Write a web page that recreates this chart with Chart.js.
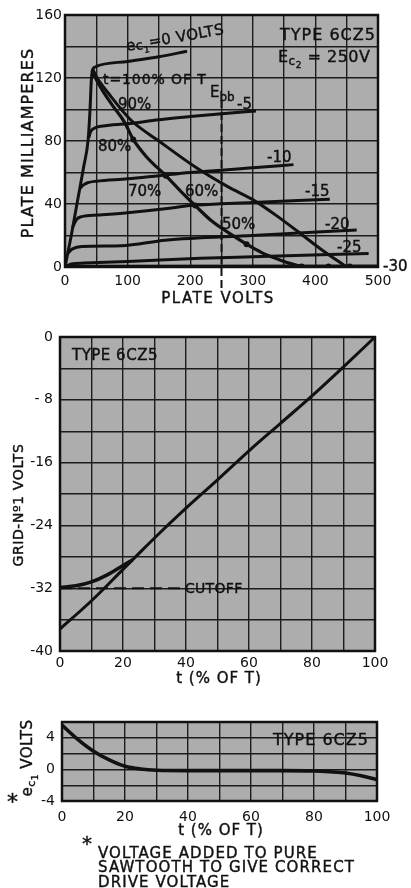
<!DOCTYPE html>
<html>
<head>
<meta charset="utf-8">
<script src="https://cdn.jsdelivr.net/npm/chart.js@4.4.0/dist/chart.umd.min.js"></script>
<style>
  html, body { margin: 0; padding: 0; background: #fff; }
  canvas { position: absolute; left: 0; }
</style>
</head>
<body>
<canvas id="plate" width="411" height="310" style="top:0px"></canvas>
<canvas id="grid1" width="411" height="390" style="top:310px"></canvas>
<canvas id="drive" width="411" height="188" style="top:700px"></canvas>
<script>
// ---- plate characteristics, 6CZ5 (plate volts, plate mA) ----
const plateVoltTicks = [0, 100, 200, 300, 400, 500];
const plateMaTicks = [0, 40, 80, 120, 160];

const ec0 = [[0,0],[10,20],[20,42],[30,64],[37,81],[40,100],[42,118],[44,125],[48,127],[100,130.5],[150,133.5],[195,137]];
const ec5 = [[38,82],[41,86],[46,88],[60,89.5],[100,91],[150,93.5],[200,95.5],[255,97.5],[305,99]];
const ec10 = [[24,50],[29,52],[36,53.5],[50,54.5],[100,56],[150,58],[200,60],[300,63],[365,65]];
const ec15 = [[12,25],[18,30],[27,32],[53,33],[100,34.5],[160,37],[200,39],[300,41],[423,43]];
const ec20 = [[5,9],[12,11.5],[27,13],[90,13.5],[160,17],[300,20],[466,23.5]];
const ec25 = [[0,0],[10,2],[30,2.5],[100,3.5],[216,5.5],[300,6.5],[485,8.6]];
const ec30 = [[0,0.5],[500,0.6]];

// operating path, 100% -> 20% of T
const pathT = [[43,125],[50,119],[60,112],[77,102],[95,92],[109,81],[130,70],[161,58],[185,48],[208,39],[235,29],[264,21],[290,14.5],[315,9],[343,4.5],[362,2],[381,0]];
const pathDots = [[109,81],[161,58],[208,39],[290,14.5],[378,0.3],[421,0.3],[455,0.3]];
// load line
const loadLine = [[44,126],[50,121],[70,110],[106,93],[150,80],[210,63],[260,51],[303,42],[340,32],[372,22.5],[410,11],[450,0]];
const ebb = [[250,106],[250,-15]];

// ---- grid No.1 drive voltage vs t (% of T) ----
const tTicks = [0, 20, 40, 60, 80, 100];
const gridVoltTicks = [0, -8, -16, -24, -32, -40];
const gridVoltLabels = ['0', '- 8', '-16', '-24', '-32', '-40'];
const driveT = [0, 10, 20, 25, 30, 40, 50, 60, 70, 80, 90, 100];
const driveV = [-37.2, -33.6, -29.6, -27.6, -25.6, -21.8, -18.2, -14.5, -11, -7.5, -3.8, 0];
const bendT = [0, 5, 10, 15, 20, 23];
const bendV = [-31.9, -31.7, -31.2, -30.3, -29.1, -28.4];
const cutoffT = [0, 39];
const cutoffV = [-32, -32];

// ---- correction voltage ec1 ----
const ecTicks = [4, 0, -4];
const corrT = [0, 5, 10, 15, 20, 25, 30, 40, 50, 60, 70, 80, 85, 90, 95, 100];
const corrV = [5.6, 3.8, 2.3, 1.2, 0.4, 0.05, -0.1, -0.15, -0.15, -0.15, -0.15, -0.2, -0.3, -0.45, -0.8, -1.3];

const FONT = '"DejaVu Sans", sans-serif';
const INK = '#111';
const pairs = a => a.map(([x, y]) => ({ x, y }));
const zip = (xs, ys) => xs.map((x, i) => ({ x, y: ys[i] }));

function put(ctx, x, y, parts, o = {}) {
  ctx.save();
  ctx.translate(x, y);
  if (o.rot) ctx.rotate(o.rot * Math.PI / 180);
  ctx.fillStyle = INK;
  ctx.strokeStyle = INK;
  ctx.lineWidth = 0.4;
  ctx.textBaseline = 'alphabetic';
  ctx.letterSpacing = (o.ls || 0) + 'px';
  let w = 0;
  parts.forEach(p => { ctx.font = p[1] + 'px ' + FONT; w += ctx.measureText(p[0]).width; });
  let cx = o.align === 'center' ? -w / 2 : 0;
  parts.forEach(p => {
    ctx.font = p[1] + 'px ' + FONT;
    ctx.fillText(p[0], cx, p[2] || 0);
    ctx.strokeText(p[0], cx, p[2] || 0);
    cx += ctx.measureText(p[0]).width;
  });
  ctx.restore();
}

function line(data, width, extra) {
  return Object.assign({
    data, showLine: true, borderColor: INK, borderWidth: width || 3,
    pointRadius: 0, cubicInterpolationMode: 'monotone', fill: false
  }, extra || {});
}

function scale(min, max, step, cb, fit, pad) {
  return {
    type: 'linear', min, max,
    ticks: { stepSize: step, autoSkip: false, maxRotation: 0, padding: pad, color: INK,
             font: { family: FONT, size: 14 }, callback: cb },
    grid: { color: '#1c1c1c', lineWidth: 1.4, drawTicks: false },
    border: { display: false },
    afterFit: fit
  };
}

const paper = {
  id: 'paper',
  beforeDraw(chart) {
    const a = chart.chartArea, ctx = chart.ctx;
    ctx.save();
    ctx.fillStyle = '#adadad';
    ctx.fillRect(a.left, a.top, a.right - a.left, a.bottom - a.top);
    ctx.restore();
  },
  afterDraw(chart) {
    const a = chart.chartArea, ctx = chart.ctx;
    ctx.save();
    ctx.strokeStyle = INK;
    ctx.lineWidth = 2.5;
    ctx.strokeRect(a.left, a.top, a.right - a.left, a.bottom - a.top);
    ctx.restore();
  }
};

function base(datasets, x, y, padding, notes) {
  return {
    type: 'scatter',
    data: { datasets },
    options: {
      responsive: false, animation: false, devicePixelRatio: 1,
      layout: { padding },
      plugins: { legend: { display: false }, tooltip: { enabled: false } },
      scales: { x, y }
    },
    plugins: [paper, { id: 'notes', afterDraw: chart => notes(chart.ctx) }]
  };
}

// ---------- chart 1 ----------
new Chart(document.getElementById('plate'), base(
  [
    line(pairs(ec0)), line(pairs(ec5)), line(pairs(ec10)), line(pairs(ec15)),
    line(pairs(ec20)), line(pairs(ec25)), line(pairs(ec30)),
    line(pairs(pathT), 3.2), line(pairs(loadLine), 3),
    line(pairs(ebb), 2, { borderDash: [8, 4], clip: false, cubicInterpolationMode: 'default' }),
    { data: pairs(pathDots), showLine: false, pointRadius: 3, pointBackgroundColor: INK, pointBorderWidth: 0 }
  ],
  scale(0, 500, 50, v => plateVoltTicks.includes(v) ? String(v) : '', s => { s.height = 43; }, 6),
  scale(0, 160, 20, v => plateMaTicks.includes(v) ? String(v) : '', s => { s.width = 65; }, 3),
  { left: 0, right: 33, top: 15, bottom: 0 },
  ctx => {
    put(ctx, 33, 143, [['PLATE MILLIAMPERES', 16]], { rot: -90, align: 'center', ls: 1.1 });
    put(ctx, 218, 303, [['PLATE VOLTS', 15]], { align: 'center', ls: 1.5 });
    put(ctx, 280, 40, [['TYPE 6CZ5', 16]], { ls: 1 });
    put(ctx, 278, 62, [['E', 16], ['c', 12, 3], ['2', 9, 6], [' = 250V', 16]], { ls: 0.5 });
    put(ctx, 127, 51, [['e', 15], ['c', 13, 1], ['1', 9, 5], ['=0 VOLTS', 15]], { rot: -10, ls: 0.3 });
    put(ctx, 103, 84, [['t=100% OF T', 14]], { ls: 0.9 });
    put(ctx, 210, 97, [['E', 15], ['bb', 12, 4]]);
    put(ctx, 237, 109, [['-5', 15]]);
    put(ctx, 118, 109, [['90%', 15]]);
    put(ctx, 98, 151, [['80%', 15]]);
    put(ctx, 267, 162, [['-10', 15]]);
    put(ctx, 128, 196, [['70%', 15]]);
    put(ctx, 185, 196, [['60%', 15]]);
    put(ctx, 305, 196, [['-15', 15]]);
    put(ctx, 222, 229, [['50%', 15]]);
    put(ctx, 325, 229, [['-20', 15]]);
    put(ctx, 337, 252, [['-25', 15]]);
    put(ctx, 383, 271, [['-30', 15]]);
  }
));

// ---------- chart 2 ----------
new Chart(document.getElementById('grid1'), base(
  [
    line(zip(driveT, driveV), 3),
    line(zip(bendT, bendV), 3.5),
    line(zip(cutoffT, cutoffV), 2, { borderDash: [12, 6], cubicInterpolationMode: 'default' })
  ],
  scale(0, 100, 10, v => tTicks.includes(v) ? String(v) : '', s => { s.height = 49; }, 4),
  scale(-40, 0, 4, v => { const i = gridVoltTicks.indexOf(v); return i < 0 ? '' : gridVoltLabels[i]; }, s => { s.width = 60; }, 7),
  { left: 0, right: 36, top: 27, bottom: 0 },
  ctx => {
    put(ctx, 23, 195, [['GRID-Nº1 VOLTS', 14]], { rot: -90, align: 'center', ls: 0.6 });
    put(ctx, 219, 373, [['t (% OF T)', 15]], { align: 'center', ls: 1 });
    put(ctx, 72, 50, [['TYPE 6CZ5', 15]], { ls: 0.5 });
    put(ctx, 185, 283, [['CUTOFF', 14]], { ls: 0.3 });
  }
));

// ---------- chart 3 ----------
new Chart(document.getElementById('drive'), base(
  [ line(zip(corrT, corrV), 3.6) ],
  scale(0, 100, 10, v => tTicks.includes(v) ? String(v) : '', s => { s.height = 87; }, 8),
  scale(-4, 6, 2, v => ecTicks.includes(v) ? String(v) : '', s => { s.width = 62; }, 7),
  { left: 0, right: 34, top: 22, bottom: 0 },
  ctx => {
    put(ctx, 32, 58, [['e', 15], ['c', 11, 3], ['1', 9, 6], [' VOLTS', 15]], { rot: -90, align: 'center', ls: 0.5 });
    put(ctx, 7, 109, [['*', 22]]);
    put(ctx, 221, 135, [['t (% OF T)', 15]], { align: 'center', ls: 1 });
    put(ctx, 273, 45, [['TYPE 6CZ5', 16]], { ls: 1 });
    put(ctx, 82, 150, [['*', 20]]);
    put(ctx, 98, 158, [['VOLTAGE ADDED TO PURE', 15]], { ls: 1.1 });
    put(ctx, 98, 172, [['SAWTOOTH TO GIVE CORRECT', 15]], { ls: 1.1 });
    put(ctx, 98, 187, [['DRIVE VOLTAGE', 15]], { ls: 1.1 });
  }
));
</script>
</body>
</html>
